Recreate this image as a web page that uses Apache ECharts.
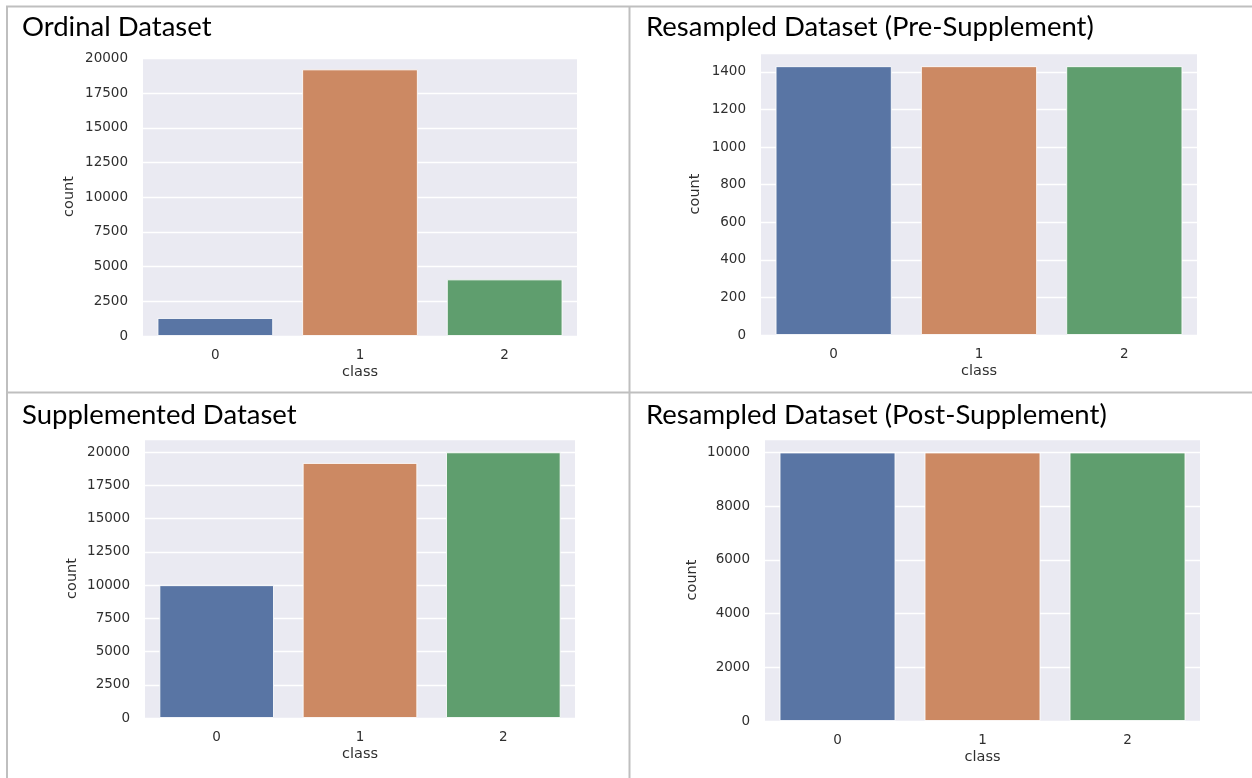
<!DOCTYPE html>
<html>
<head>
<meta charset="utf-8">
<script src="https://cdn.jsdelivr.net/npm/echarts@6/dist/echarts.min.js"></script>
<style>
  html, body { margin: 0; padding: 0; background: #fff; }
  #chart { width: 1252px; height: 778px; }
</style>
</head>
<body>
<div id="chart"></div>
<script>
// data
const classes = ['0', '1', '2']
const titles = [
  'Ordinal Dataset',
  'Resampled Dataset (Pre-Supplement)',
  'Supplemented Dataset',
  'Resampled Dataset (Post-Supplement)'
]
const ordinalCounts = [1300, 19210, 4080]
const preSupplementCounts = [1430, 1430, 1430]
const supplementedCounts = [10000, 19200, 20000]
const postSupplementCounts = [10000, 10000, 10000]
const yMax = [20100, 1500, 21000, 10500]
const yStep = [2500, 200, 2500, 2000]

const palette = ['#5975A4', '#CC8963', '#5F9E6E']
const tickFont = { fontFamily: 'DejaVu Sans', fontSize: 13.5, color: '#2f2f2f' }
const nameFont = { fontFamily: 'DejaVu Sans', fontSize: 14.5, color: '#2f2f2f' }

const panels = [
  { data: ordinalCounts, grid: { left: 143, top: 57, width: 434, height: 279 }, title: [22, 13], nameGap: 66 },
  { data: preSupplementCounts, grid: { left: 761, top: 53, width: 436, height: 282 }, title: [646, 13], nameGap: 58 },
  { data: supplementedCounts, grid: { left: 145, top: 439, width: 430, height: 279 }, title: [22, 401], nameGap: 65 },
  { data: postSupplementCounts, grid: { left: 765, top: 439, width: 435, height: 282 }, title: [646, 401], nameGap: 65 }
]

const chart = echarts.init(document.getElementById('chart'))

const border = (x1, y1, x2, y2) => ({
  type: 'line',
  shape: { x1, y1, x2, y2 },
  style: { stroke: '#BFBFBF', lineWidth: 2 },
  silent: true
})

chart.setOption({
  animation: false,
  color: palette,
  title: panels.map((p, i) => ({
    text: titles[i],
    left: p.title[0],
    top: p.title[1],
    padding: 0,
    textStyle: { fontFamily: 'Lato', fontSize: 27.5, fontWeight: 'normal', color: '#000' }
  })),
  grid: panels.map(p => Object.assign({
    show: true,
    backgroundColor: '#EAEAF2',
    borderWidth: 0
  }, p.grid)),
  xAxis: panels.map((p, i) => ({
    type: 'category',
    gridIndex: i,
    data: classes,
    name: 'class',
    nameLocation: 'middle',
    nameGap: 29,
    nameTextStyle: nameFont,
    axisLine: { show: false },
    axisTick: { show: false },
    axisLabel: Object.assign({ margin: 12 }, tickFont),
    splitLine: { show: false }
  })),
  yAxis: panels.map((p, i) => ({
    type: 'value',
    gridIndex: i,
    min: 0,
    max: yMax[i],
    interval: yStep[i],
    name: 'count',
    nameLocation: 'middle',
    nameGap: p.nameGap,
    nameTextStyle: nameFont,
    axisLine: { show: false },
    axisTick: { show: false },
    axisLabel: Object.assign({ margin: 15, showMaxLabel: false, formatter: v => String(v) }, tickFont),
    splitLine: { lineStyle: { color: '#fff', width: 1.3 } }
  })),
  series: panels.map((p, i) => ({
    type: 'bar',
    xAxisIndex: i,
    yAxisIndex: i,
    colorBy: 'data',
    barWidth: '80%',
    data: p.data,
    itemStyle: { borderColor: 'rgba(255,255,255,0.85)', borderWidth: 1 }
  })),
  graphic: [
    border(6, 6.5, 1252, 6.5),
    border(7, 6, 7, 778),
    border(629.5, 6, 629.5, 778),
    border(6, 392.5, 1252, 392.5)
  ]
})
</script>
</body>
</html>
